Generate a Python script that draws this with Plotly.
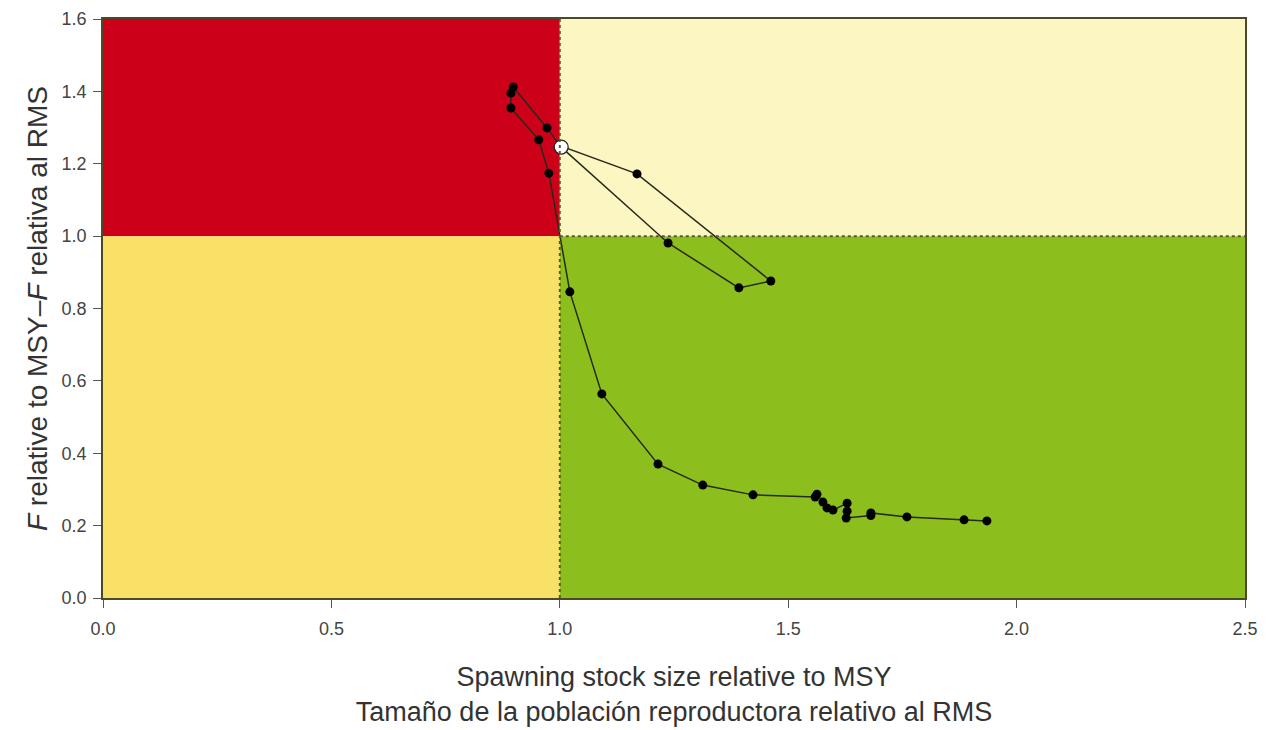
import plotly.graph_objects as go

# Trajectory (spawning stock relative to MSY, F relative to F_MSY)
ssb_rel = [1.935, 1.885, 1.760, 1.681, 1.681, 1.627, 1.629, 1.629, 1.598, 1.585,
           1.576, 1.563, 1.559, 1.423, 1.313, 1.215, 1.092, 1.022, 0.976, 0.954,
           0.893, 0.893, 0.898, 0.972, 1.000, 1.169, 1.462, 1.392, 1.237, 1.003]
f_rel = [0.213, 0.216, 0.224, 0.235, 0.228, 0.221, 0.240, 0.262, 0.243, 0.249,
         0.265, 0.287, 0.279, 0.285, 0.312, 0.370, 0.564, 0.846, 1.174, 1.266,
         1.354, 1.395, 1.412, 1.299, 1.250, 1.172, 0.876, 0.857, 0.981, 1.246]

x_ticks = [0.0, 0.5, 1.0, 1.5, 2.0, 2.5]
y_ticks = [0.0, 0.2, 0.4, 0.6, 0.8, 1.0, 1.2, 1.4, 1.6]
x_range = [0.0, 2.5]
y_range = [0.0, 1.6]
ref_point = 1.0

fig = go.Figure()

# quadrants
quads = [
    (x_range[0], ref_point, ref_point, y_range[1], "#CD0019"),
    (ref_point, x_range[1], ref_point, y_range[1], "#FCF7C2"),
    (x_range[0], ref_point, y_range[0], ref_point, "#F9E067"),
    (ref_point, x_range[1], y_range[0], ref_point, "#8CBE1E"),
]
for x0, x1, y0, y1, c in quads:
    fig.add_shape(type="rect", xref="x", yref="y", x0=x0, x1=x1, y0=y0, y1=y1,
                  fillcolor=c, line=dict(width=0), layer="below")

fig.add_shape(type="line", xref="x", yref="y", x0=ref_point, x1=ref_point,
              y0=y_range[0], y1=y_range[1], line=dict(color="#5a5a28", width=2, dash="dot"))
fig.add_shape(type="line", xref="x", yref="y", x0=ref_point, x1=x_range[1],
              y0=ref_point, y1=ref_point, line=dict(color="#5a5a28", width=2, dash="dot"))

fig.add_trace(go.Scatter(x=ssb_rel, y=f_rel, mode="lines+markers",
                         line=dict(color="#262a18", width=1.5),
                         marker=dict(color="black", size=9),
                         showlegend=False, hoverinfo="x+y"))
fig.add_trace(go.Scatter(x=[ssb_rel[-1]], y=[f_rel[-1]], mode="markers",
                         marker=dict(color="white", size=14,
                                     line=dict(color="#222", width=1.3)),
                         showlegend=False, hoverinfo="x+y"))

axis_common = dict(showgrid=False, zeroline=False, ticks="outside", ticklen=8,
                   tickwidth=1, tickcolor="#555", showline=True, linecolor="#4a4a2a",
                   linewidth=1.5, mirror=True, automargin=False,
                   tickfont=dict(family="Liberation Sans, Arial", size=18, color="#444"))

fig.update_xaxes(range=x_range, tickvals=x_ticks,
                 ticktext=[f"{v:.1f}" for v in x_ticks], **axis_common,
                 ticklabelstandoff=6,
                 title=dict(text="Spawning stock size relative to MSY<br>Tamaño de la población reproductora relativo al RMS",
                            font=dict(family="Liberation Sans, Arial", size=27, color="#333"),
                            standoff=29))
fig.update_yaxes(range=y_range, tickvals=y_ticks,
                 ticktext=[f"{v:.1f}" for v in y_ticks], **axis_common,
                 ticklabelstandoff=3,
                 title=dict(text="<i>F</i> relative to MSY–<i>F</i> relativa al RMS",
                            font=dict(family="Liberation Sans, Arial", size=28, color="#333"),
                            standoff=6))

fig.update_layout(width=1270, height=730, plot_bgcolor="white", paper_bgcolor="white",
                  margin=dict(l=95, r=33, t=11, b=140))

fig.write_html("out.html")
